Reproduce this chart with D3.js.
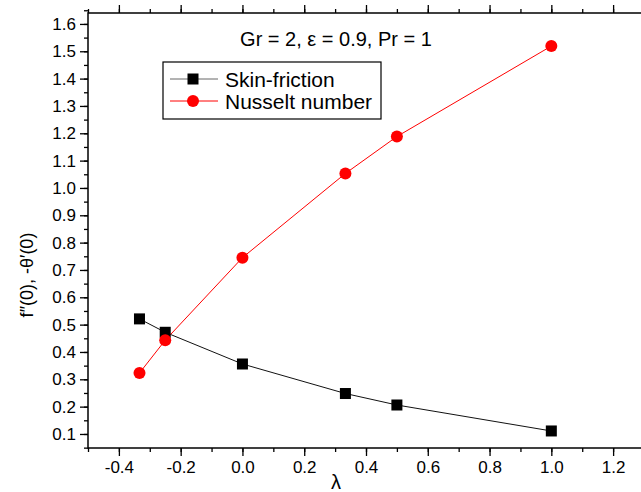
<!DOCTYPE html>
<html>
<head>
<meta charset="utf-8">
<script src="https://cdn.jsdelivr.net/npm/d3@7.9.0/dist/d3.min.js"></script>
<style>
  html, body { margin: 0; padding: 0; background: #fff; }
  svg { display: block; font-family: Arial, "Liberation Sans", sans-serif; }
</style>
</head>
<body>
<svg id="chart" width="641" height="492"></svg>
<script>
// lambda values shared by both series
const lambdas = [-1 / 3, -0.25, 0, 1 / 3, 0.5, 1.0];
// f''(0) : skin-friction
const skinFriction = [0.521, 0.472, 0.356, 0.248, 0.206, 0.111];
// -theta'(0) : Nusselt number
const nusselt = [0.323, 0.443, 0.745, 1.053, 1.188, 1.519];

const xTicks = [-0.4, -0.2, 0.0, 0.2, 0.4, 0.6, 0.8, 1.0, 1.2];
const yTicks = [0.1, 0.2, 0.3, 0.4, 0.5, 0.6, 0.7, 0.8, 0.9, 1.0, 1.1, 1.2, 1.3, 1.4, 1.5, 1.6];

const title = 'Gr = 2, \u03b5 = 0.9, Pr = 1';
const seriesNames = ['Skin-friction', 'Nusselt number'];

const svg = d3.select('#chart');

// plot frame
const pLeft = 88, pRight = 644, pTop = 13, pBottom = 448;

const x = d3.scaleLinear().domain([-0.5, 1.3]).range([pLeft, pRight]);
const y = d3.scaleLinear().domain([0.0487, 1.64]).range([pBottom, pTop]);

// minor tick positions
const xMinor = d3.range(-0.5, 1.3001, 0.1).map(v => +v.toFixed(2));
const yMinor = d3.range(0.05, 1.6501, 0.05).map(v => +v.toFixed(2));

// plain hyphen for negatives, like the original
const fmt = d => d.toFixed(1);

function styleAxis(g) {
  g.selectAll('.domain').remove();
  g.selectAll('line').attr('stroke', '#000').attr('stroke-width', 1.3);
  g.selectAll('text')
    .attr('fill', '#000')
    .style('font-size', '17px')
    .style('font-family', 'Arial, "Liberation Sans", sans-serif');
}

// bottom axis: minor then major
svg.append('g')
  .attr('transform', `translate(0,${pBottom})`)
  .call(d3.axisBottom(x).tickValues(xMinor).tickSize(4).tickFormat(''))
  .call(styleAxis);
svg.append('g')
  .attr('transform', `translate(0,${pBottom})`)
  .call(d3.axisBottom(x).tickValues(xTicks).tickSize(8).tickPadding(5).tickFormat(fmt))
  .call(styleAxis);

// top axis: ticks only
svg.append('g')
  .attr('transform', `translate(0,${pTop})`)
  .call(d3.axisTop(x).tickValues(xMinor).tickSize(4).tickFormat(''))
  .call(styleAxis);
svg.append('g')
  .attr('transform', `translate(0,${pTop})`)
  .call(d3.axisTop(x).tickValues(xTicks).tickSize(8).tickFormat(''))
  .call(styleAxis);

// left axis
svg.append('g')
  .attr('transform', `translate(${pLeft},0)`)
  .call(d3.axisLeft(y).tickValues(yMinor).tickSize(4).tickFormat(''))
  .call(styleAxis);
svg.append('g')
  .attr('transform', `translate(${pLeft},0)`)
  .call(d3.axisLeft(y).tickValues(yTicks).tickSize(8).tickPadding(4).tickFormat(fmt))
  .call(styleAxis);

// frame lines
svg.append('rect')
  .attr('x', pLeft).attr('y', pTop)
  .attr('width', pRight - pLeft).attr('height', pBottom - pTop)
  .attr('fill', 'none').attr('stroke', '#000').attr('stroke-width', 1.5);

// axis titles
svg.append('text')
  .attr('x', 336).attr('y', 489)
  .attr('text-anchor', 'middle')
  .style('font-size', '20px')
  .text('\u03bb');

svg.append('text')
  .attr('transform', 'translate(33,275) rotate(-90)')
  .attr('text-anchor', 'middle')
  .style('font-size', '18px')
  .text('f\u2033(0),  -\u03b8\u2032(0)');

// series
const skinData = lambdas.map((l, i) => [l, skinFriction[i]]);
const nuData = lambdas.map((l, i) => [l, nusselt[i]]);
const line = d3.line().x(d => x(d[0])).y(d => y(d[1]));

svg.append('path')
  .datum(skinData)
  .attr('d', line)
  .attr('fill', 'none')
  .attr('stroke', '#111')
  .attr('stroke-width', 1);

svg.append('path')
  .datum(nuData)
  .attr('d', line)
  .attr('fill', 'none')
  .attr('stroke', '#ff0000')
  .attr('stroke-width', 1);

svg.selectAll('.sq')
  .data(skinData)
  .join('rect')
  .attr('class', 'sq')
  .attr('x', d => x(d[0]) - 5.5)
  .attr('y', d => y(d[1]) - 5.5)
  .attr('width', 11).attr('height', 11)
  .attr('fill', '#000');

svg.selectAll('.dot')
  .data(nuData)
  .join('circle')
  .attr('class', 'dot')
  .attr('cx', d => x(d[0]))
  .attr('cy', d => y(d[1]))
  .attr('r', 6)
  .attr('fill', '#ff0000');

// title
svg.append('text')
  .attr('x', 336).attr('y', 46)
  .attr('text-anchor', 'middle')
  .style('font-size', '20px')
  .text(title);

// legend
const lg = svg.append('g').attr('transform', 'translate(163,62)');
lg.append('rect')
  .attr('width', 218).attr('height', 57)
  .attr('fill', '#fff').attr('stroke', '#000').attr('stroke-width', 1.2);

const rowY = [17, 39];
seriesNames.forEach((name, i) => {
  const row = lg.append('g').attr('transform', `translate(0,${rowY[i]})`);
  row.append('line')
    .attr('x1', 7).attr('x2', 55)
    .attr('stroke', i === 0 ? '#666' : '#ff0000')
    .attr('stroke-width', 1);
  if (i === 0) {
    row.append('rect')
      .attr('x', 30 - 5.5).attr('y', -5.5)
      .attr('width', 11).attr('height', 11)
      .attr('fill', '#000');
  } else {
    row.append('circle')
      .attr('cx', 30).attr('r', 6)
      .attr('fill', '#ff0000');
  }
  row.append('text')
    .attr('x', 62).attr('y', 7.5)
    .style('font-size', '21px')
    .text(name);
});
</script>
</body>
</html>
